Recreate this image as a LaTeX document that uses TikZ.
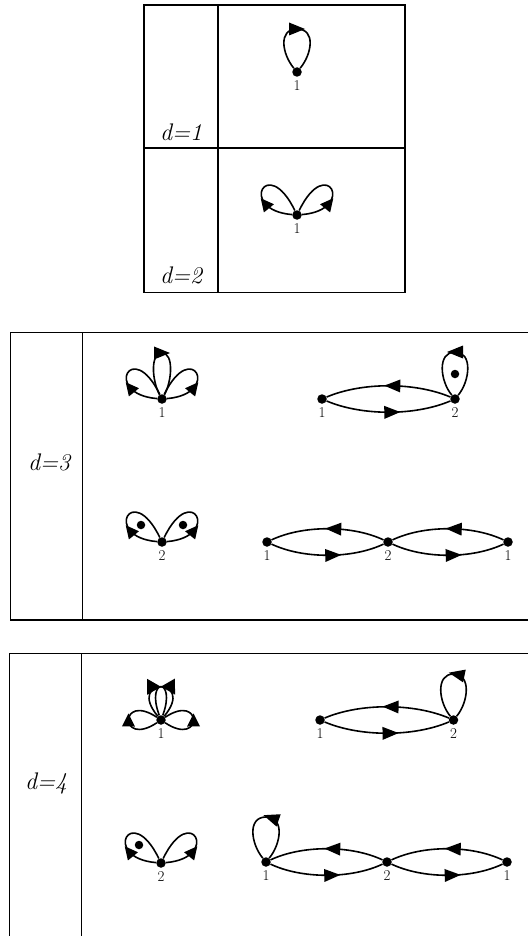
\documentclass[tikz,border=0pt]{standalone}
\usetikzlibrary{decorations.markings}
\tikzset{
  vtx/.style={circle,fill=black,inner sep=0pt,minimum size=9.5pt},
  idot/.style={circle,fill=black,inner sep=0pt,minimum size=8.5pt},
  lbl/.style={inner sep=0pt,font=\fontsize{15}{15}\selectfont},
  dlbl/.style={inner sep=0pt,font=\fontsize{24}{28}\selectfont\itshape},
  boxline/.style={line width=1.6pt},
  edg/.style={line width=1.6pt},
  afwd/.style={postaction={decorate,decoration={markings,mark=at position #1 with {\fill (-8pt,-6.5pt)--(8pt,0pt)--(-8pt,6.5pt)--cycle;}}}},
  abwd/.style={postaction={decorate,decoration={markings,mark=at position #1 with {\fill (8pt,-6.5pt)--(-8pt,0pt)--(8pt,6.5pt)--cycle;}}}},
  pfwd/.style={postaction={decorate,decoration={markings,mark=at position #1 with {\fill (-6.5pt,-6.5pt)--(6.5pt,0pt)--(-6.5pt,6.5pt)--cycle;}}}},
  tipfwd/.style={postaction={decorate,decoration={markings,mark=at position #1 with {\fill (-14pt,-8pt)--(0pt,0pt)--(-14pt,8pt)--cycle;}}}},
}
\begin{document}
\begin{tikzpicture}[x=1pt,y=-1pt]
\useasboundingbox (0,0) rectangle (527,936);
% ---------- frames ----------
\draw[boxline] (144,5) rectangle (405,292.5);
\draw[boxline] (218,5) -- (218,292.5);
\draw[boxline] (144,148) -- (405,148);
\draw[boxline] (545,332.5) -- (10.5,332.5) -- (10.5,620) -- (545,620);
\draw[boxline] (82.5,332.5) -- (82.5,620);
\draw[boxline] (545,653.5) -- (9.5,653.5) -- (9.5,950);
\draw[boxline] (81.5,653.5) -- (81.5,950);
% ---------- d labels ----------
\node[dlbl] (L1) at (181,132) {d=1};
\node[dlbl] (L2) at (181,275) {d=2};
\node[dlbl] (L3) at (49,462) {d=3};
\node[dlbl] (L4) at (46,783) {d=4};
% ---------- d=1 ----------
\node[vtx] (a1) at (297,72) {};
\node[lbl] (a1l) at (297,86) {1};
\coordinate (a1t) at (297,29);
\draw[edg,afwd=0.5] (a1) .. controls +(-15,-18) and +(-19,0) .. (a1t) .. controls +(19,0) and +(15,-18) .. (a1);
% ---------- d=2 ----------
\node[vtx] (b1) at (297,215) {};
\node[lbl] (b1l) at (297,229) {1};
\draw[edg,pfwd=0.33] (b1) .. controls +(-60,-5) and +(-30,-62) .. (b1);
\draw[edg,pfwd=0.33] (b1) .. controls +(60,-5) and +(30,-62) .. (b1);
% ---------- d=3 A ----------
\node[vtx] (c1) at (162,399) {};
\node[lbl] (c1l) at (162,413) {1};
\draw[edg,pfwd=0.33] (c1) .. controls +(-60,-5) and +(-30,-62) .. (c1);
\draw[edg,pfwd=0.33] (c1) .. controls +(60,-5) and +(30,-62) .. (c1);
\coordinate (c1t) at (162,353);
\draw[edg,afwd=0.5] (c1) .. controls +(-10,-18) and +(-12,0) .. (c1t) .. controls +(12,0) and +(10,-18) .. (c1);
% ---------- d=3 B ----------
\node[vtx] (e1) at (322,399) {};
\node[vtx] (e2) at (455,399) {};
\node[lbl] (e1l) at (322,413) {1};
\node[lbl] (e2l) at (455,413) {2};
\draw[edg,abwd=0.53] (e1) .. controls +(40,-17) and +(-40,-17) .. (e2);
\draw[edg,afwd=0.53] (e1) .. controls +(40,17) and +(-40,17) .. (e2);
\coordinate (e2t) at (455,352);
\draw[edg,afwd=0.5] (e2) .. controls +(15,-18) and +(18,0) .. (e2t) .. controls +(-18,0) and +(-15,-18) .. (e2);
\node[idot] (e2d) at (455,374) {};
% ---------- d=3 C ----------
\node[vtx] (g1) at (162,542) {};
\node[lbl] (g1l) at (162,556) {2};
\draw[edg,pfwd=0.33] (g1) .. controls +(-60,-5) and +(-30,-62) .. (g1);
\draw[edg,pfwd=0.33] (g1) .. controls +(60,-5) and +(30,-62) .. (g1);
\node[idot] (g1d1) at (141,525) {};
\node[idot] (g1d2) at (183,525) {};
% ---------- d=3 D ----------
\node[vtx] (h1) at (267,542) {};
\node[vtx] (h2) at (388,542) {};
\node[vtx] (h3) at (508,542) {};
\node[lbl] (h1l) at (267,556) {1};
\node[lbl] (h2l) at (388,556) {2};
\node[lbl] (h3l) at (508,556) {1};
\draw[edg,abwd=0.55] (h1) .. controls +(36,-17) and +(-36,-17) .. (h2);
\draw[edg,afwd=0.55] (h1) .. controls +(36,17) and +(-36,17) .. (h2);
\draw[edg,abwd=0.55] (h2) .. controls +(36,-17) and +(-36,-17) .. (h3);
\draw[edg,afwd=0.55] (h2) .. controls +(36,17) and +(-36,17) .. (h3);
% ---------- d=4 A ----------
\node[vtx] (k1) at (161,720) {};
\node[lbl] (k1l) at (161,734) {1};
\draw[edg,pfwd=0.5] (k1) .. controls +(-42,28) and +(-42,-28) .. (k1);
\draw[edg,pfwd=0.5] (k1) .. controls +(42,28) and +(42,-28) .. (k1);
\draw[edg,tipfwd=0.5] (k1) .. controls +(-36,-43) and +(36,-43) .. (k1);
\draw[edg,tipfwd=0.5] (k1) .. controls +(16,-43) and +(-16,-43) .. (k1);
% ---------- d=4 B ----------
\node[vtx] (m1) at (320,720) {};
\node[vtx] (m2) at (453.5,720) {};
\node[lbl] (m1l) at (320,734) {1};
\node[lbl] (m2l) at (453.5,734) {2};
\draw[edg,abwd=0.53] (m1) .. controls +(40,-17) and +(-40,-17) .. (m2);
\draw[edg,afwd=0.53] (m1) .. controls +(40,17) and +(-40,17) .. (m2);
\coordinate (m2t) at (453.5,674);
\draw[edg,afwd=0.47] (m2) .. controls +(15,-18) and +(18,0) .. (m2t) .. controls +(-18,0) and +(-15,-18) .. (m2);
% ---------- d=4 C ----------
\node[vtx] (p1) at (161,863) {};
\node[lbl] (p1l) at (161,877) {2};
\draw[edg,pfwd=0.33] (p1) .. controls +(-60,-5) and +(-30,-62) .. (p1);
\draw[edg,pfwd=0.33] (p1) .. controls +(60,-5) and +(30,-62) .. (p1);
\node[idot] (p1d) at (139,845) {};
% ---------- d=4 D ----------
\node[vtx] (q1) at (266,862) {};
\node[vtx] (q2) at (387,862) {};
\node[vtx] (q3) at (507,862) {};
\node[lbl] (q1l) at (266,876) {1};
\node[lbl] (q2l) at (387,876) {2};
\node[lbl] (q3l) at (507,876) {1};
\coordinate (q1t) at (266,817);
\draw[edg,afwd=0.45] (q1) .. controls +(15,-18) and +(19,0) .. (q1t) .. controls +(-19,0) and +(-15,-18) .. (q1);
\draw[edg,abwd=0.55] (q1) .. controls +(36,-17) and +(-36,-17) .. (q2);
\draw[edg,afwd=0.55] (q1) .. controls +(36,17) and +(-36,17) .. (q2);
\draw[edg,abwd=0.55] (q2) .. controls +(36,-17) and +(-36,-17) .. (q3);
\draw[edg,afwd=0.55] (q2) .. controls +(36,17) and +(-36,17) .. (q3);
\end{tikzpicture}
\end{document}
